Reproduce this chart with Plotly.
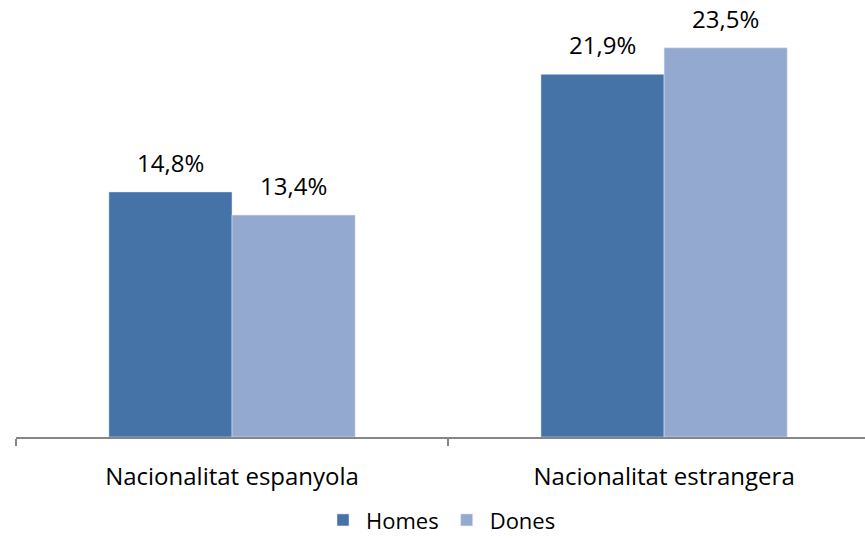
import plotly.graph_objects as go

categories = ["Nacionalitat espanyola", "Nacionalitat estrangera"]
homes = [14.8, 21.9]
dones = [13.4, 23.5]


def fmt(v):
    return f"{v:.1f}%".replace(".", ",")


fig = go.Figure()
fig.add_trace(go.Bar(x=categories, y=homes, name="Homes", marker=dict(color="#4572A7")))
fig.add_trace(go.Bar(x=categories, y=dones, name="Dones", marker=dict(color="#93A9CF")))

# value labels above the bars
for vals, shift in [(homes, -61.5), (dones, 61.5)]:
    for c, v in zip(categories, vals):
        fig.add_annotation(
            x=c, y=v, text=fmt(v), showarrow=False,
            xanchor="center", yanchor="bottom", xshift=shift, yshift=11,
            font=dict(size=24, color="#000000"),
        )

fig.update_layout(
    width=865,
    height=539,
    barmode="group",
    bargap=0.43,
    bargroupgap=0,
    font=dict(family="Open Sans, sans-serif", size=24, color="#000000"),
    plot_bgcolor="white",
    paper_bgcolor="white",
    margin=dict(l=16, r=0, t=23, b=102),
    xaxis=dict(
        range=[-0.5, 1.465],
        showline=True, linecolor="#868686", linewidth=2,
        ticks="outside", tickson="boundaries", ticklen=7,
        tickcolor="#868686", tickwidth=2,
        tickfont=dict(size=24), ticklabelstandoff=17,
    ),
    yaxis=dict(range=[0, 25], visible=False, showgrid=False),
    legend=dict(
        orientation="h", x=0.5, xanchor="center",
        yref="container", y=0.035, yanchor="middle",
        font=dict(size=22), itemwidth=36,
    ),
)

fig.write_html("out.html", config={"displayModeBar": False},
               post_script="document.body.style.margin='0';")
